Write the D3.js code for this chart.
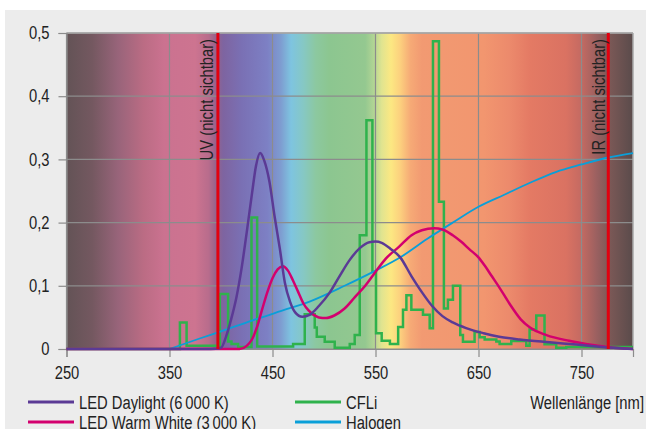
<!DOCTYPE html>
<html>
<head>
<meta charset="utf-8">
<script src="https://cdn.jsdelivr.net/npm/d3@7"></script>
<style>
  body { margin: 0; background: #fff; }
  svg { display: block; font-family: "Liberation Sans", Arial, sans-serif; }
</style>
</head>
<body>
<div id="chart"></div>
<script>
// values: [wavelength nm, relative intensity]
const xTicks = [250, 350, 450, 550, 650, 750];
const yTicks = [0, 0.1, 0.2, 0.3, 0.4, 0.5];

const ledDaylight = [[250,0],[390,0],[400,0.002],[405,0.02],[410,0.048],[415,0.082],[420,0.128],[425,0.185],[430,0.245],[434,0.29],[438,0.31],[442,0.298],[447,0.265],[452,0.21],[457,0.16],[462,0.105],[467,0.075],[472,0.058],[479,0.051],[486,0.054],[495,0.068],[505,0.088],[515,0.115],[525,0.141],[535,0.16],[544,0.169],[550,0.17],[556,0.168],[565,0.158],[574,0.145],[585,0.115],[595,0.09],[605,0.068],[615,0.052],[625,0.042],[638,0.033],[655,0.025],[670,0.0195],[690,0.015],[719,0.0106],[745,0.007],[767,0.0037],[800,0]];

const ledWarmWhite = [[250,0],[418,0],[425,0.005],[430,0.015],[435,0.035],[440,0.063],[445,0.09],[450,0.112],[455,0.126],[460,0.131],[465,0.124],[470,0.108],[475,0.09],[480,0.072],[485,0.061],[490,0.054],[495,0.05],[502,0.049],[510,0.053],[520,0.064],[530,0.082],[540,0.1],[550,0.122],[560,0.143],[573,0.162],[585,0.18],[595,0.188],[607,0.191],[615,0.189],[625,0.18],[633,0.17],[641,0.158],[650,0.145],[656,0.132],[663,0.115],[670,0.098],[680,0.072],[691,0.047],[700,0.034],[716,0.022],[738,0.013],[761,0.0063],[777,0.0027],[800,0]];

const halogen = [[350,0],[380,0.017],[400,0.028],[430,0.045],[460,0.061],[486,0.075],[520,0.1],[550,0.124],[575,0.146],[600,0.174],[625,0.2],[650,0.225],[675,0.244],[700,0.263],[725,0.28],[750,0.292],[776,0.303],[800,0.31]];

// CFLi is a step spectrum: each pair starts a new step
const cfli = [[250,0],[360.1,0.042],[366.6,0.005],[398.9,0.087],[406.9,0.012],[410.2,0.008],[416.6,0.003],[429.6,0.208],[435.1,0.004],[470,0.008],[481.3,0.055],[491,0.034],[493,0.0195],[500.7,0.0115],[510.4,0.002],[525,0.008],[529.8,0.022],[534.7,0.18],[541.2,0.362],[547,0.122],[550.5,0.025],[556,0.013],[564,0.008],[572,0.035],[576.7,0.062],[580,0.085],[584.8,0.062],[596.1,0.054],[602.6,0.033],[605.8,0.487],[611.6,0.233],[616.4,0.064],[620.3,0.078],[625.2,0.1],[632.3,0.022],[634.9,0.0115],[646.2,0.027],[651.1,0.0185],[656,0.015],[667.3,0.012],[670.5,0.008],[681.8,0.0127],[696.4,0.005],[699.6,0.031],[706.1,0.053],[714.1,0.0075],[725.5,0.002],[735.2,0.003],[800,0.003]];

const uvLimit = 397;
const irLimit = 776;

const spectrumStops = [[250,"#635356"],[275,"#745860"],[300,"#98647a"],[325,"#bb6c84"],[345,"#cb7290"],[375,"#cd7490"],[388,"#b86c8c"],[395,"#96638c"],[402,"#7e64a0"],[420,"#7a70b4"],[445,"#7d80c4"],[458,"#7e9cd0"],[468,"#7ec4e0"],[480,"#86c8c4"],[492,"#8cc8a0"],[505,"#8cc690"],[540,"#94c890"],[548,"#b0d494"],[556,"#e0e490"],[565,"#fce882"],[574,"#fcd07e"],[584,"#f6aa76"],[595,"#f29a72"],[655,"#f2966f"],[680,"#ec8a6c"],[700,"#e47a64"],[735,"#da7262"],[750,"#c46a62"],[765,"#9a6060"],[778,"#7a5856"],[800,"#5a4b4b"]];

const legendNames = ["LED Daylight (6\u2009000 K)", "LED Warm White (3\u2009000 K)", "CFLi", "Halogen"];
const legendColors = ["#5b3a95", "#d3006e", "#2fb24c", "#0a9fd8"];

const W = 646, H = 429;
const svg = d3.select("#chart").append("svg")
    .attr("width", W)
    .attr("height", H);

// grey panel
svg.append("rect")
    .attr("x", 5).attr("y", 10)
    .attr("width", W - 5).attr("height", H - 10)
    .attr("fill", "#ececec");

const x = d3.scaleLinear().domain([250, 800]).range([66.5, 633]);
const y = d3.scaleLinear().domain([0, 0.5]).range([349, 33]);

// spectrum background
const grad = svg.append("defs").append("linearGradient")
    .attr("id", "spec")
    .attr("gradientUnits", "userSpaceOnUse")
    .attr("x1", x(250)).attr("x2", x(800))
    .attr("y1", 0).attr("y2", 0);
grad.selectAll("stop")
    .data(spectrumStops)
    .enter().append("stop")
    .attr("offset", d => (d[0] - 250) / 550)
    .attr("stop-color", d => d[1]);

svg.append("rect")
    .attr("x", x(250)).attr("y", y(0.5))
    .attr("width", x(800) - x(250)).attr("height", y(0) - y(0.5))
    .attr("fill", "url(#spec)");

// grid
svg.append("g").selectAll("line")
    .data(yTicks)
    .enter().append("line")
    .attr("x1", x(250)).attr("x2", x(800))
    .attr("y1", d => y(d)).attr("y2", d => y(d))
    .attr("stroke", "#8c8c8c").attr("stroke-width", 1.2);

svg.append("g").selectAll("line")
    .data(xTicks)
    .enter().append("line")
    .attr("x1", d => x(d)).attr("x2", d => x(d))
    .attr("y1", y(0)).attr("y2", y(0.5))
    .attr("stroke", "#8c8c8c").attr("stroke-width", 1.2);

svg.append("line")
    .attr("x1", x(800)).attr("x2", x(800))
    .attr("y1", y(0)).attr("y2", y(0.5))
    .attr("stroke", "#a8a8a8").attr("stroke-width", 1.5);
svg.append("line")
    .attr("x1", x(250)).attr("x2", x(800))
    .attr("y1", y(0.5)).attr("y2", y(0.5))
    .attr("stroke", "#a8a8a8").attr("stroke-width", 1.5);

// axes
const fmt = d => d3.format(".1f")(d).replace(".", ",").replace(/^0,0$/, "0");
const yAxis = svg.append("g")
    .attr("transform", `translate(${x(250)},0)`)
    .call(d3.axisLeft(y).tickValues(yTicks).tickSize(8).tickPadding(9).tickFormat(fmt));
const xAxis = svg.append("g")
    .attr("transform", `translate(0,${y(0)})`)
    .call(d3.axisBottom(x).tickValues(xTicks).tickSize(8).tickPadding(9).tickFormat(d3.format("d")));
[yAxis, xAxis].forEach(a => {
    a.attr("font-family", null).attr("font-size", null);
    a.select(".domain").attr("stroke", "#8c8c8c").attr("stroke-width", 1.2);
    a.selectAll(".tick line").attr("stroke", "#8c8c8c").attr("stroke-width", 1.2);
    a.selectAll(".tick text").attr("fill", "#222").style("font-size", "18px");
});

// curves
const smooth = d3.line()
    .x(d => x(d[0]))
    .y(d => y(d[1]))
    .curve(d3.curveMonotoneX);
const steps = d3.line()
    .x(d => x(d[0]))
    .y(d => y(d[1]))
    .curve(d3.curveStepAfter);

svg.append("path")
    .attr("d", steps(cfli))
    .attr("fill", "none").attr("stroke", legendColors[2]).attr("stroke-width", 2.5);
svg.append("path")
    .attr("d", smooth(halogen))
    .attr("fill", "none").attr("stroke", legendColors[3]).attr("stroke-width", 1.8);
svg.append("path")
    .attr("d", smooth(ledWarmWhite))
    .attr("fill", "none").attr("stroke", legendColors[1]).attr("stroke-width", 2.5);
svg.append("path")
    .attr("d", smooth(ledDaylight))
    .attr("fill", "none").attr("stroke", legendColors[0]).attr("stroke-width", 2.5);

// UV / IR limits
[uvLimit, irLimit].forEach(v => {
    svg.append("line")
        .attr("x1", x(v)).attr("x2", x(v))
        .attr("y1", y(0)).attr("y2", y(0.5))
        .attr("stroke", "#e3000f").attr("stroke-width", 3);
});
svg.append("text")
    .attr("transform", `translate(${x(uvLimit) - 5},${y(0.5) + 6}) rotate(-90)`)
    .attr("text-anchor", "end")
    .attr("fill", "#222").style("font-size", "18px")
    .text("UV (nicht sichtbar)");
svg.append("text")
    .attr("transform", `translate(${x(irLimit) - 3},${y(0.5) + 6}) rotate(-90)`)
    .attr("text-anchor", "end")
    .attr("fill", "#222").style("font-size", "18px")
    .text("IR (nicht sichtbar)");

// legend
const legend = svg.selectAll(".legend")
    .data(legendNames)
    .enter().append("g")
    .attr("class", "legend")
    .attr("transform", (d, i) => `translate(${i < 2 ? 28 : 295},${i % 2 === 0 ? 402 : 422})`);
legend.append("line")
    .attr("x1", 0).attr("x2", 46)
    .attr("stroke", (d, i) => legendColors[i])
    .attr("stroke-width", 3);
legend.append("text")
    .attr("x", 51).attr("y", 6.5)
    .attr("fill", "#222").style("font-size", "18px")
    .text(d => d);

svg.append("text")
    .attr("x", 644).attr("y", 408.5)
    .attr("text-anchor", "end")
    .attr("fill", "#222").style("font-size", "18px")
    .text("Wellenlänge [nm]");

// condensed look: squeeze every label to ~82% of its width
svg.selectAll("text").each(function() {
    const w = this.getComputedTextLength();
    d3.select(this)
        .attr("textLength", (w * 0.82).toFixed(1))
        .attr("lengthAdjust", "spacingAndGlyphs");
});
</script>
</body>
</html>
